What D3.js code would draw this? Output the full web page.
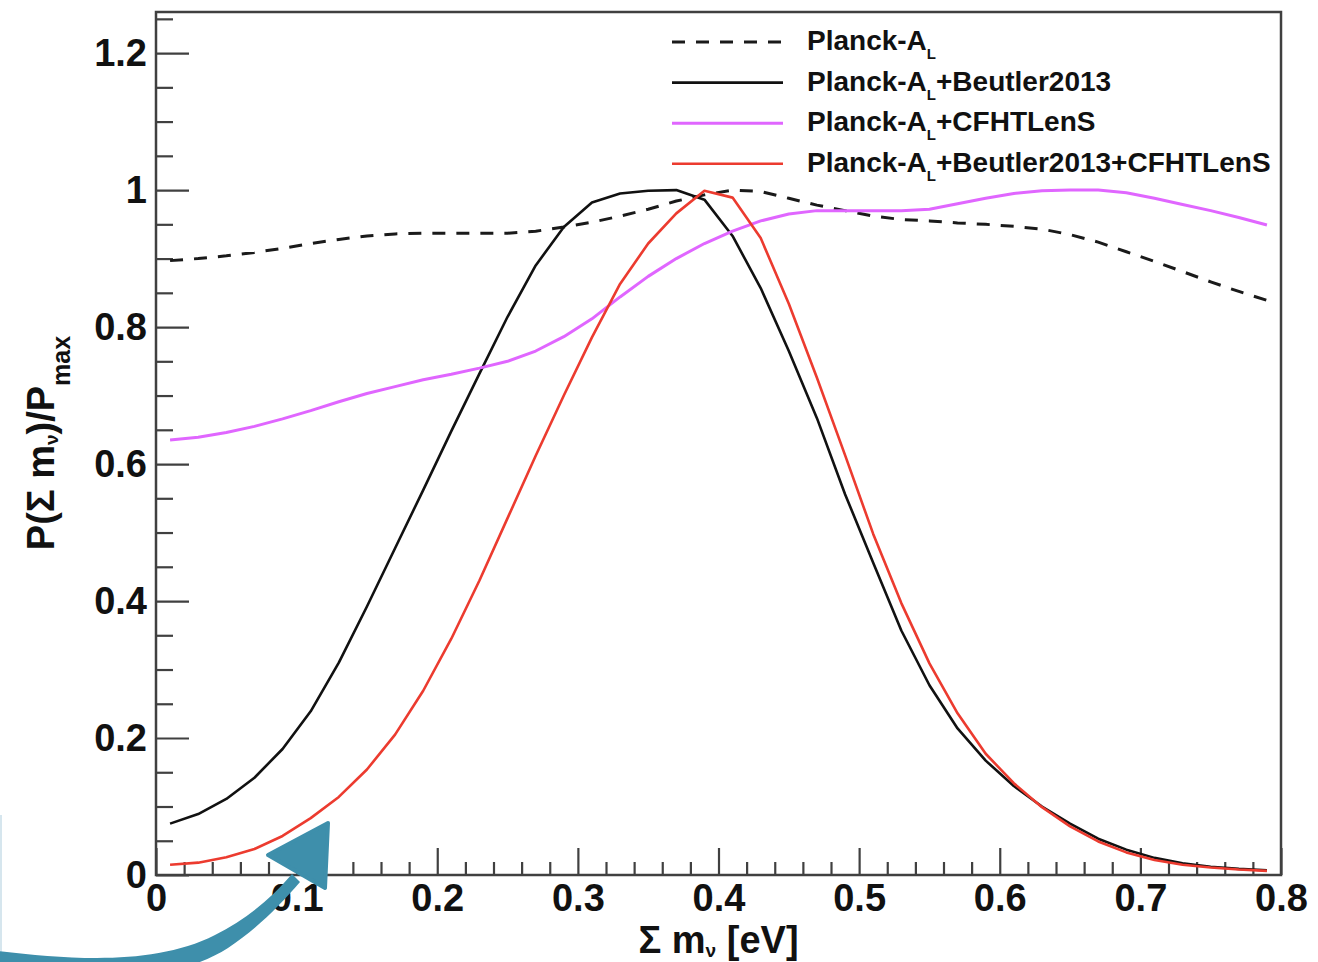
<!DOCTYPE html>
<html>
<head>
<meta charset="utf-8">
<script src="https://cdnjs.cloudflare.com/ajax/libs/d3/7.8.5/d3.min.js"></script>
<style>
  html, body { margin: 0; padding: 0; background: #fff; overflow: hidden; }
  svg { display: block; }
  text { font-family: "Liberation Sans", Arial, Helvetica, sans-serif; font-weight: bold; fill: #111; }
</style>
</head>
<body>
<svg id="chart" width="1318" height="962"></svg>
<script>
// Bin centres of the neutrino-mass posterior, in eV
const massBins = [0.01, 0.03, 0.05, 0.07, 0.09, 0.11, 0.13, 0.15, 0.17, 0.19,
                  0.21, 0.23, 0.25, 0.27, 0.29, 0.31, 0.33, 0.35, 0.37, 0.39,
                  0.41, 0.43, 0.45, 0.47, 0.49, 0.51, 0.53, 0.55, 0.57, 0.59,
                  0.61, 0.63, 0.65, 0.67, 0.69, 0.71, 0.73, 0.75, 0.77, 0.79];

// Normalised posteriors P / P_max for each data combination
const planckAL = [0.897, 0.900, 0.904, 0.909, 0.915, 0.922, 0.928, 0.933, 0.936, 0.937,
                  0.937, 0.937, 0.937, 0.940, 0.946, 0.953, 0.962, 0.972, 0.984, 0.993,
                  1.000, 0.998, 0.988, 0.978, 0.970, 0.962, 0.957, 0.955, 0.952, 0.950,
                  0.947, 0.943, 0.935, 0.924, 0.910, 0.896, 0.881, 0.866, 0.852, 0.839];

const planckBeutler = [0.075, 0.089, 0.111, 0.142, 0.184, 0.239, 0.310, 0.392, 0.477, 0.562,
                       0.648, 0.732, 0.815, 0.890, 0.946, 0.982, 0.995, 0.999, 1.000, 0.986,
                       0.933, 0.857, 0.765, 0.667, 0.556, 0.456, 0.357, 0.277, 0.214, 0.167,
                       0.130, 0.100, 0.075, 0.053, 0.037, 0.025, 0.017, 0.012, 0.009, 0.007];

const planckCFHT = [0.635, 0.639, 0.646, 0.655, 0.666, 0.678, 0.691, 0.703, 0.713, 0.723,
                    0.731, 0.740, 0.750, 0.765, 0.786, 0.812, 0.844, 0.874, 0.900, 0.922,
                    0.940, 0.955, 0.965, 0.970, 0.970, 0.970, 0.970, 0.972, 0.980, 0.988,
                    0.995, 0.999, 1.000, 1.000, 0.996, 0.988, 0.979, 0.970, 0.960, 0.949];

const planckBeutlerCFHT = [0.015, 0.018, 0.026, 0.038, 0.057, 0.083, 0.114, 0.154, 0.205, 0.269,
                           0.345, 0.430, 0.521, 0.612, 0.700, 0.785, 0.863, 0.922, 0.966, 0.999,
                           0.989, 0.930, 0.834, 0.726, 0.613, 0.498, 0.397, 0.309, 0.236, 0.177,
                           0.134, 0.099, 0.071, 0.049, 0.033, 0.022, 0.015, 0.011, 0.008, 0.006];

// Axis tick labels
const xTicks = [0, 0.1, 0.2, 0.3, 0.4, 0.5, 0.6, 0.7, 0.8];
const yTicks = [0, 0.2, 0.4, 0.6, 0.8, 1, 1.2];

// Legend entries: main text, subscript, trailing text
const legendNames = [
  ["Planck-A", "L", ""],
  ["Planck-A", "L", "+Beutler2013"],
  ["Planck-A", "L", "+CFHTLenS"],
  ["Planck-A", "L", "+Beutler2013+CFHTLenS"]
];

const series = [
  { values: planckAL,          color: "#1a1a1a", width: 3,   dash: "13,11" },
  { values: planckBeutler,     color: "#111111", width: 2.6, dash: null },
  { values: planckCFHT,        color: "#e066ff", width: 3,   dash: null },
  { values: planckBeutlerCFHT, color: "#ec3b2f", width: 2.6, dash: null }
];

const svg = d3.select("#chart");
const frame = { left: 156, right: 1281, top: 12, bottom: 875 };

const x = d3.scaleLinear().domain([0, 0.8]).range([frame.left, frame.right]);
const y = d3.scaleLinear().domain([0, 1.26]).range([frame.bottom, frame.top]);

const fmt = d => d3.format("~g")(d);
const axisColor = "#404040";

// ---- axes (ticks point into the frame) ----
const xMinor = x.ticks(40).filter(v => Math.abs(v * 10 - Math.round(v * 10)) > 1e-6);
const yMinor = y.ticks(25).filter(v => Math.abs(v * 5 - Math.round(v * 5)) > 1e-6 && v < 1.26);

const gxMinor = svg.append("g")
  .attr("transform", `translate(0,${frame.bottom})`)
  .call(d3.axisBottom(x).tickValues(xMinor).tickSizeInner(-13).tickSizeOuter(0).tickFormat(""));
const gx = svg.append("g")
  .attr("transform", `translate(0,${frame.bottom})`)
  .call(d3.axisBottom(x).tickValues(xTicks).tickSizeInner(-27).tickSizeOuter(0)
        .tickPadding(9).tickFormat(fmt));

const gyMinor = svg.append("g")
  .attr("transform", `translate(${frame.left},0)`)
  .call(d3.axisLeft(y).tickValues(yMinor).tickSizeInner(-17).tickSizeOuter(0).tickFormat(""));
const gy = svg.append("g")
  .attr("transform", `translate(${frame.left},0)`)
  .call(d3.axisLeft(y).tickValues(yTicks).tickSizeInner(-33).tickSizeOuter(0)
        .tickPadding(9).tickFormat(fmt));

[gx, gxMinor, gy, gyMinor].forEach(g => {
  g.select(".domain").remove();
  g.selectAll(".tick line").attr("stroke", axisColor).attr("stroke-width", 2.2);
  g.selectAll(".tick text")
    .attr("fill", "#111")
    .style("font-family", '"Liberation Sans", Arial, sans-serif')
    .style("font-weight", "bold")
    .style("font-size", "38px");
});

// ---- frame ----
svg.append("rect")
  .attr("x", frame.left).attr("y", frame.top)
  .attr("width", frame.right - frame.left).attr("height", frame.bottom - frame.top)
  .attr("fill", "none").attr("stroke", axisColor).attr("stroke-width", 2.5);

// ---- curves ----
const line = d3.line()
  .x((d, i) => x(massBins[i]))
  .y(d => y(d))
  .curve(d3.curveLinear);

series.forEach(s => {
  svg.append("path")
    .datum(s.values)
    .attr("d", line)
    .attr("fill", "none")
    .attr("stroke", s.color)
    .attr("stroke-width", s.width)
    .attr("stroke-dasharray", s.dash)
    .attr("stroke-linejoin", "round");
});

// ---- legend ----
const legend = svg.append("g");
legendNames.forEach((parts, i) => {
  const yRow = 42 + i * 40.6;
  const s = series[i];
  legend.append("line")
    .attr("x1", 672).attr("x2", 783)
    .attr("y1", yRow).attr("y2", yRow)
    .attr("stroke", s.color).attr("stroke-width", s.width)
    .attr("stroke-dasharray", s.dash);
  const t = legend.append("text")
    .attr("x", 807).attr("y", yRow + 8)
    .style("font-size", "28px");
  t.append("tspan").text(parts[0]);
  t.append("tspan").attr("dy", 9).style("font-size", "15px").text(parts[1]);
  t.append("tspan").attr("dy", -9).text(parts[2]);
});

// ---- axis titles ----
const xTitle = svg.append("text")
  .attr("x", x(0.4)).attr("y", 953)
  .attr("text-anchor", "middle")
  .style("font-size", "38px");
xTitle.append("tspan").text("\u03A3 m");
xTitle.append("tspan").attr("dy", 4).style("font-size", "19px").text("\u03BD");
xTitle.append("tspan").attr("dy", -4).text(" [eV]");

const yTitle = svg.append("text")
  .attr("transform", "translate(54,443) rotate(-90)")
  .attr("text-anchor", "middle")
  .style("font-size", "38px");
yTitle.append("tspan").text("P(\u03A3 m");
yTitle.append("tspan").attr("dy", 4).style("font-size", "19px").text("\u03BD");
yTitle.append("tspan").attr("dy", -4).text(")/P");
yTitle.append("tspan").attr("dy", 16).style("font-size", "25px").text("max");

// ---- annotation arrow pointing at the low-mass tail ----
const arrowColor = "#3e8fab";
svg.append("line")
  .attr("x1", 1).attr("x2", 1).attr("y1", 815).attr("y2", 962)
  .attr("stroke", "#d6e6ee").attr("stroke-width", 2);
svg.append("path")
  .attr("d", "M -10,950 C 60,958 150,968 215,935 C 245,920 270,900 292,874 " +
             "L 300,882 C 280,905 258,928 228,948 C 170,985 70,985 -10,972 Z")
  .attr("fill", arrowColor);
svg.append("path")
  .attr("d", "M 328,823 L 268,855 L 325,888 Z")
  .attr("fill", arrowColor)
  .attr("stroke", arrowColor)
  .attr("stroke-width", 4)
  .attr("stroke-linejoin", "round");
</script>
</body>
</html>
